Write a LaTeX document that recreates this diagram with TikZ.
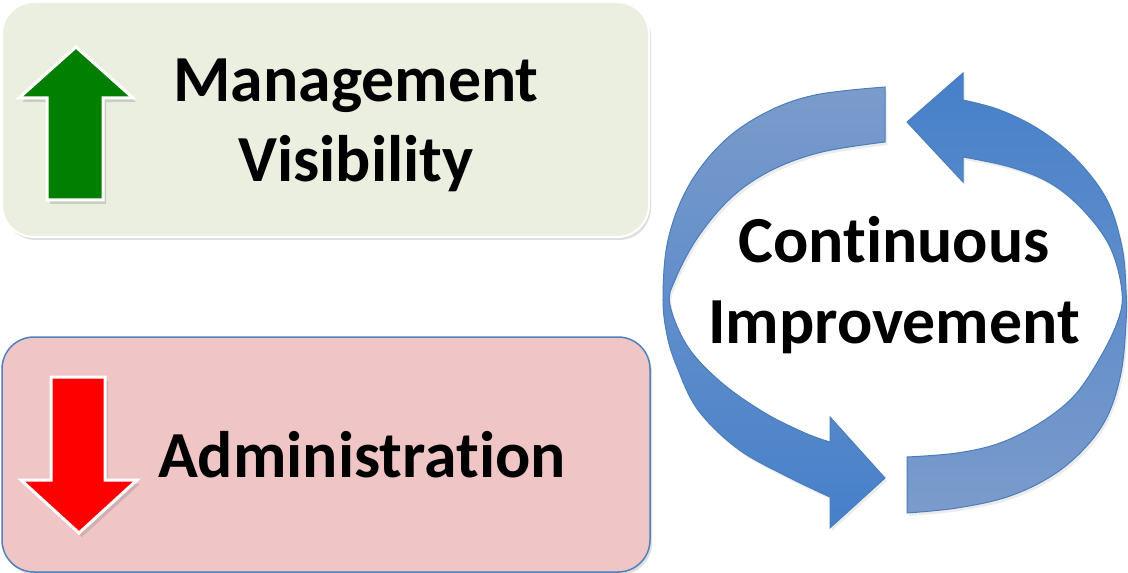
\documentclass[tikz,border=0pt]{standalone}
\usepackage{fontspec}
\setmainfont{Carlito}[Ligatures={NoCommon,NoContextual}, RawFeature={-liga;-clig;-calt;-dlig}]
\usetikzlibrary{shadows}
\definecolor{boxgreen}{HTML}{EBEFDF}
\definecolor{boxpink}{HTML}{F0C5C5}
\definecolor{boxblue}{HTML}{4F81BD}
\definecolor{arrgreen}{HTML}{007F00}
\definecolor{arrred}{HTML}{FF0000}
\definecolor{ringedge}{HTML}{4A7EBB}
\definecolor{ringlight}{HTML}{7B9BCB}
\definecolor{ringbright}{HTML}{6A9DE2}
\definecolor{ringdark}{HTML}{4680CA}
\begin{document}
\begin{tikzpicture}[x=1bp,y=-1bp,
  panel/.style={rounded corners=32bp, drop shadow={shadow xshift=2bp, shadow yshift=-3bp, opacity=0.25}},
  bigarrow/.style={draw=white, line width=3bp, line join=miter, drop shadow={shadow xshift=3bp, shadow yshift=-4bp, opacity=0.3}},
  label/.style={font=\fontsize{66}{80}\selectfont\bfseries, anchor=base, inner sep=0pt},
  ring/.style={draw=ringedge, line width=1bp, drop shadow={shadow xshift=2bp, shadow yshift=-3bp, opacity=0.15}}]
\useasboundingbox (0,0) rectangle (1128,573);
\fill[white] (0,0) rectangle (1128,573);
% panels
\path[panel, fill=boxgreen, draw=white, line width=2bp] (2,2) rectangle (649,237);
\path[panel, fill=boxpink, draw=boxblue, line width=1.5bp] (2,337) rectangle (650,572);
% up / down arrows
\path[bigarrow, fill=arrgreen] (76,47) -- (133,98) -- (103,98) -- (103,200) -- (47,200) -- (47,98) -- (19,98) -- cycle;
\path[bigarrow, fill=arrred] (79,533) -- (137,480) -- (105,480) -- (105,377) -- (51,377) -- (51,480) -- (21,480) -- cycle;
% texts
\node[label] (mgmt) at (356,102) {Management};
\node[label] (vis) at (356,182) {Visibility};
\node[label] (adm) at (362,477) {Administration};
\node[label] (cont) at (894,263) {Continuous};
\node[label] (impr) at (894,343) {Improvement};
% circular arrows
\draw[ring, top color=ringlight, middle color=ringbright, bottom color=ringdark]
  (885,87) -- plot[smooth, tension=0.6] coordinates {(885,87) (815,95) (765,113) (722,143) (688,187) (668,240) (663,297) (667,335) (677,367) (698,410) (738,449) (788,477) (830,497)}
  -- (830,528) -- (885,478) -- (830,417) -- (830,442)
  -- plot[smooth, tension=0.6] coordinates {(830,442) (805,433) (765,413) (722,383) (688,347) (670,305) (675,280) (698,237) (732,197) (772,170) (822,152) (885,142)}
  -- cycle;
\draw[ring, top color=ringdark, middle color=ringbright, bottom color=ringlight]
  (907,513) -- plot[smooth, tension=0.6] coordinates {(907,513) (957,508) (1007,497) (1050,477) (1083,450) (1107,417) (1121,373) (1126,323) (1126,290) (1122,247) (1107,200) (1077,160) (1040,130) (1000,110) (963,100)}
  -- (963,73) -- (907,122) -- (963,182) -- (963,157)
  -- plot[smooth, tension=0.6] coordinates {(963,157) (1010,167) (1050,183) (1083,210) (1110,247) (1122,292) (1117,323) (1097,363) (1073,397) (1040,423) (1000,443) (957,453) (907,457)}
  -- cycle;
\end{tikzpicture}
\end{document}
